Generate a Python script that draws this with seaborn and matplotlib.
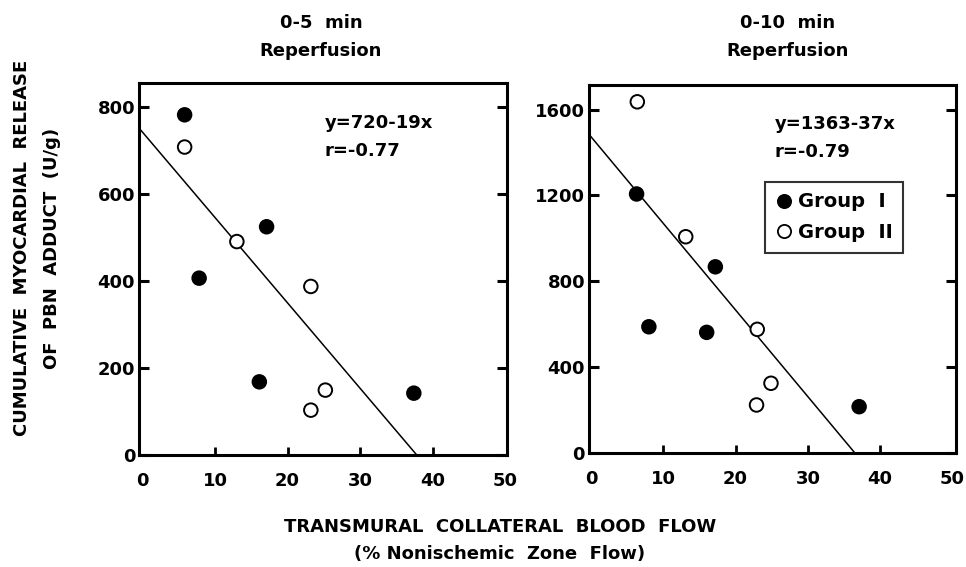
import numpy as np
import pandas as pd
import matplotlib
matplotlib.use("Agg")
import matplotlib.pyplot as plt
import seaborn as sns
from matplotlib.lines import Line2D

sns.set_theme(style="white")
plt.rcParams['font.family'] = ['DejaVu Sans']
plt.rcParams['font.weight'] = 'bold'
plt.rcParams['text.color'] = 'black'
plt.rcParams['axes.labelcolor'] = 'black'
plt.rcParams['xtick.color'] = 'black'
plt.rcParams['ytick.color'] = 'black'

# ---- data ----
panel_titles = ["0-5  min\nReperfusion", "0-10  min\nReperfusion"]
equations = ["y=720-19x\nr=-0.77", "y=1363-37x\nr=-0.79"]

g1_x_5 = [5.8, 7.8, 17.1, 16.1, 37.4]
g1_y_5 = [781, 406, 524, 168, 142]
g2_x_5 = [5.8, 13.0, 23.2, 25.2, 23.2]
g2_y_5 = [707, 490, 387, 149, 103]

g1_x_10 = [6.3, 17.2, 8.0, 16.0, 37.1]
g1_y_10 = [1207, 868, 589, 563, 217]
g2_x_10 = [6.4, 13.1, 23.0, 24.9, 22.9]
g2_y_10 = [1636, 1008, 577, 326, 225]

# drawn regression lines (intercept, slope)
fit_intercepts = [741, 1473]
fit_slopes = [-19.6, -40.3]

x_ticks = [0, 10, 20, 30, 40, 50]
y_ticks = [[0, 200, 400, 600, 800], [0, 400, 800, 1200, 1600]]
x_limits = [(-0.45, 50.2), (-0.25, 50.5)]
y_limits = [(0, 854), (0, 1714)]
group_names = ["Group  I", "Group  II"]

FS = 13

fig = plt.figure(figsize=(9.66, 5.67), dpi=100)
ax1 = fig.add_axes([0.1442, 0.1975, 0.3803, 0.6561])
ax2 = fig.add_axes([0.6100, 0.2005, 0.3796, 0.6495])
axes = [ax1, ax2]

datasets = [
    (g1_x_5, g1_y_5, g2_x_5, g2_y_5),
    (g1_x_10, g1_y_10, g2_x_10, g2_y_10),
]

for i, ax in enumerate(axes):
    gx1, gy1, gx2, gy2 = datasets[i]
    df = pd.DataFrame({
        "x": gx1 + gx2,
        "y": gy1 + gy2,
        "group": [group_names[0]] * len(gx1) + [group_names[1]] * len(gx2),
    })
    x0 = x_limits[i][0]
    x_end = -fit_intercepts[i] / fit_slopes[i]
    lx = np.array([x0, x_end])
    ly = fit_intercepts[i] + fit_slopes[i] * lx
    sns.lineplot(x=lx, y=ly, ax=ax, color="black", linewidth=1.1, legend=False)
    sns.scatterplot(data=df, x="x", y="y", hue="group",
                    palette={group_names[0]: "black", group_names[1]: "white"},
                    edgecolor="black", linewidth=1.4, s=95, legend=False, ax=ax,
                    zorder=3)
    ax.set_xlim(*x_limits[i])
    ax.set_ylim(*y_limits[i])
    ax.set_xticks(x_ticks)
    ax.set_yticks(y_ticks[i])
    ax.set_xlabel("")
    ax.set_ylabel("")
    for s in ax.spines.values():
        s.set_visible(True)
        s.set_color("black")
        s.set_linewidth(2.2)
    ax.tick_params(axis="y", which="both", direction="in", left=True, right=True,
                   length=7, width=2.2, labelsize=FS, pad=3, colors="black")
    ax.tick_params(axis="x", which="both", direction="in", bottom=True, top=False,
                   length=6, width=2.0, labelsize=FS, pad=12, colors="black")
    for lab in ax.get_xticklabels() + ax.get_yticklabels():
        lab.set_fontweight("bold")
    ax.grid(False)
    ax.set_facecolor("white")

for ax in axes:
    tl = ax.xaxis.get_major_ticks()
    for t in (tl[0], tl[-1]):
        t.tick1line.set_visible(False)

# panel titles
title_x = [321 / 966, 788 / 966]
for i in range(2):
    fig.text(title_x[i], 1 - 37 / 567, panel_titles[i], fontsize=FS,
             fontweight="bold", ha="center", va="center", linespacing=1.75)

fig.text(325 / 966, 1 - 137 / 567, equations[0],
         fontsize=FS, fontweight="bold", va="center", ha="left", linespacing=1.7)
fig.text(775 / 966, 1 - 138 / 567, equations[1],
         fontsize=FS, fontweight="bold", va="center", ha="left", linespacing=1.7)

handles = [
    Line2D([], [], marker="o", linestyle="none", markerfacecolor="black",
           markeredgecolor="black", markersize=9.5, markeredgewidth=1.3),
    Line2D([], [], marker="o", linestyle="none", markerfacecolor="white",
           markeredgecolor="black", markersize=9.5, markeredgewidth=1.3),
]
leg = ax2.legend(handles, group_names, loc="upper left",
                 bbox_to_anchor=((765 - 589.3) / 366.7, 1 - (181.7 - 85) / 368.3),
                 frameon=True, fancybox=False, edgecolor="black",
                 prop={"weight": "bold", "size": 14}, handletextpad=0.25,
                 handlelength=0.9, borderpad=0.55, labelspacing=0.6,
                 borderaxespad=0)
leg.get_frame().set_linewidth(1.5)

fig.text(22 / 966, 1 - 248 / 567, "CUMULATIVE  MYOCARDIAL  RELEASE",
         rotation=90, fontsize=FS, fontweight="bold", ha="center", va="center")
fig.text(52 / 966, 1 - 248 / 567, "OF  PBN  ADDUCT  (U/g)",
         rotation=90, fontsize=FS, fontweight="bold", ha="center", va="center")
fig.text(500 / 966, 1 - 527 / 567, "TRANSMURAL  COLLATERAL  BLOOD  FLOW",
         fontsize=FS, fontweight="bold", ha="center", va="center")
fig.text(500 / 966, 1 - 554 / 567, "(% Nonischemic  Zone  Flow)",
         fontsize=FS, fontweight="bold", ha="center", va="center")

fig.savefig("out.png", dpi=100, facecolor="white")
